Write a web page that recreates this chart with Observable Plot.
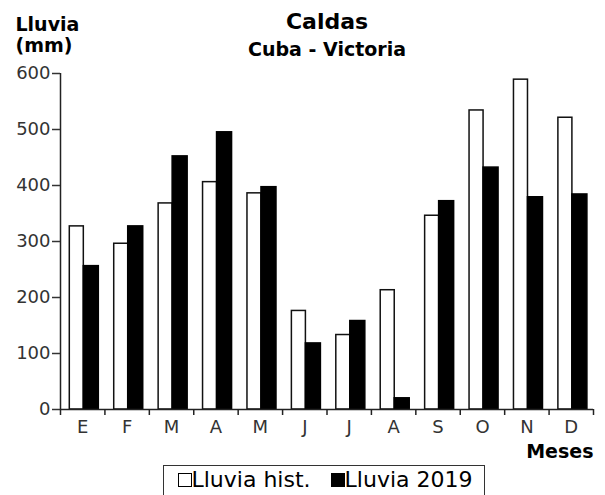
<!DOCTYPE html>
<html>
<head>
<meta charset="utf-8">
<script src="https://cdn.jsdelivr.net/npm/d3@7"></script>
<script src="https://cdn.jsdelivr.net/npm/@observablehq/plot@0.6"></script>
<style>
  html, body { margin: 0; padding: 0; background: #fff; overflow: hidden; width: 605px; height: 495px; }
  #chart svg { display: block; }
  .legend {
    margin-left: 163px; margin-top: 5px; width: 322px; height: 50px; box-sizing: border-box;
    border: 1.5px solid #333; font-family: "DejaVu Sans", sans-serif; font-size: 22px; line-height: 26px;
    padding: 1px 0 0 13.5px; color: #000; white-space: nowrap;
  }
  .sw { display: inline-block; width: 12px; height: 12px; border: 1px solid #000; vertical-align: baseline; }
  .sw.hist { background: #fff; }
  .sw.y2019 { background: #000; margin-left: 20px; }
</style>
</head>
<body>
<div id="chart"></div>
<div class="legend"><span class="sw hist"></span><span>Lluvia hist.</span><span class="sw y2019"></span><span>Lluvia 2019</span></div>
<script>
const months = ["E", "F", "M", "A", "M", "J", "J", "A", "S", "O", "N", "D"];
const lluviaHist = [327, 296, 368, 406, 386, 176, 133, 213, 346, 534, 589, 521];
const lluvia2019 = [256, 327, 452, 495, 397, 118, 158, 20, 372, 432, 379, 384];
const yTicks = [0, 100, 200, 300, 400, 500, 600];
const title = "Caldas";
const subtitle = "Cuba - Victoria";
const yLabel1 = "Lluvia";
const yLabel2 = "(mm)";
const xLabel = "Meses";

const rows = months.map((m, i) => ({i, m, hist: lluviaHist[i], y2019: lluvia2019[i]}));
const boundaries = d3.range(months.length + 1);
const centers = d3.range(months.length).map(i => i + 0.5);

const plot = Plot.plot({
  width: 605,
  height: 460,
  marginLeft: 60,
  marginRight: 12,
  marginTop: 73,
  marginBottom: 51,
  style: {fontFamily: "DejaVu Sans, sans-serif", background: "#fff", color: "#222"},
  x: {type: "linear", domain: [0, months.length], axis: null},
  y: {domain: [0, 600], axis: null},
  marks: [
    Plot.rectY(rows, {x1: d => d.i, x2: d => d.i + 1, y: "hist", fill: "white", stroke: "#111", strokeWidth: 1.5, insetLeft: 9.3, insetRight: 21.1}),
    Plot.rectY(rows, {x1: d => d.i, x2: d => d.i + 1, y: "y2019", fill: "black", stroke: "black", strokeWidth: 1.5, insetLeft: 23.3, insetRight: 6.1}),
    Plot.ruleX([0], {stroke: "#222", strokeWidth: 1.5}),
    Plot.ruleY([0], {stroke: "#222", strokeWidth: 1.5}),
    Plot.axisY({ticks: yTicks, tickSize: 8, tickPadding: 2, fontSize: 18, label: null, color: "#333", strokeWidth: 1.5}),
    Plot.axisX({ticks: boundaries, tickSize: 6, tickFormat: () => "", label: null, color: "#222", strokeWidth: 1.5}),
    Plot.axisX({ticks: centers, tickSize: 0, tickPadding: 11, tickFormat: d => months[Math.floor(d)], fontSize: 18, label: null, color: "#333"}),
    Plot.text([title], {text: d => d, frameAnchor: "top", lineAnchor: "top", dy: -60, fontSize: 22, fontWeight: "bold", fill: "#000"}),
    Plot.text([subtitle], {text: d => d, frameAnchor: "top", lineAnchor: "top", dy: -31, fontSize: 19, fontWeight: "bold", fill: "#000"}),
    Plot.text([yLabel1], {text: d => d, frameAnchor: "top-left", lineAnchor: "top", dx: -45, dy: -56, textAnchor: "start", fontSize: 19, fontWeight: "bold", fill: "#000"}),
    Plot.text([yLabel2], {text: d => d, frameAnchor: "top-left", lineAnchor: "top", dx: -45, dy: -35, textAnchor: "start", fontSize: 19, fontWeight: "bold", fill: "#000"}),
    Plot.text([xLabel], {text: d => d, frameAnchor: "bottom-right", dy: 48, textAnchor: "end", fontSize: 19, fontWeight: "bold", fill: "#000"})
  ]
});
document.getElementById("chart").appendChild(plot);
</script>
</body>
</html>
